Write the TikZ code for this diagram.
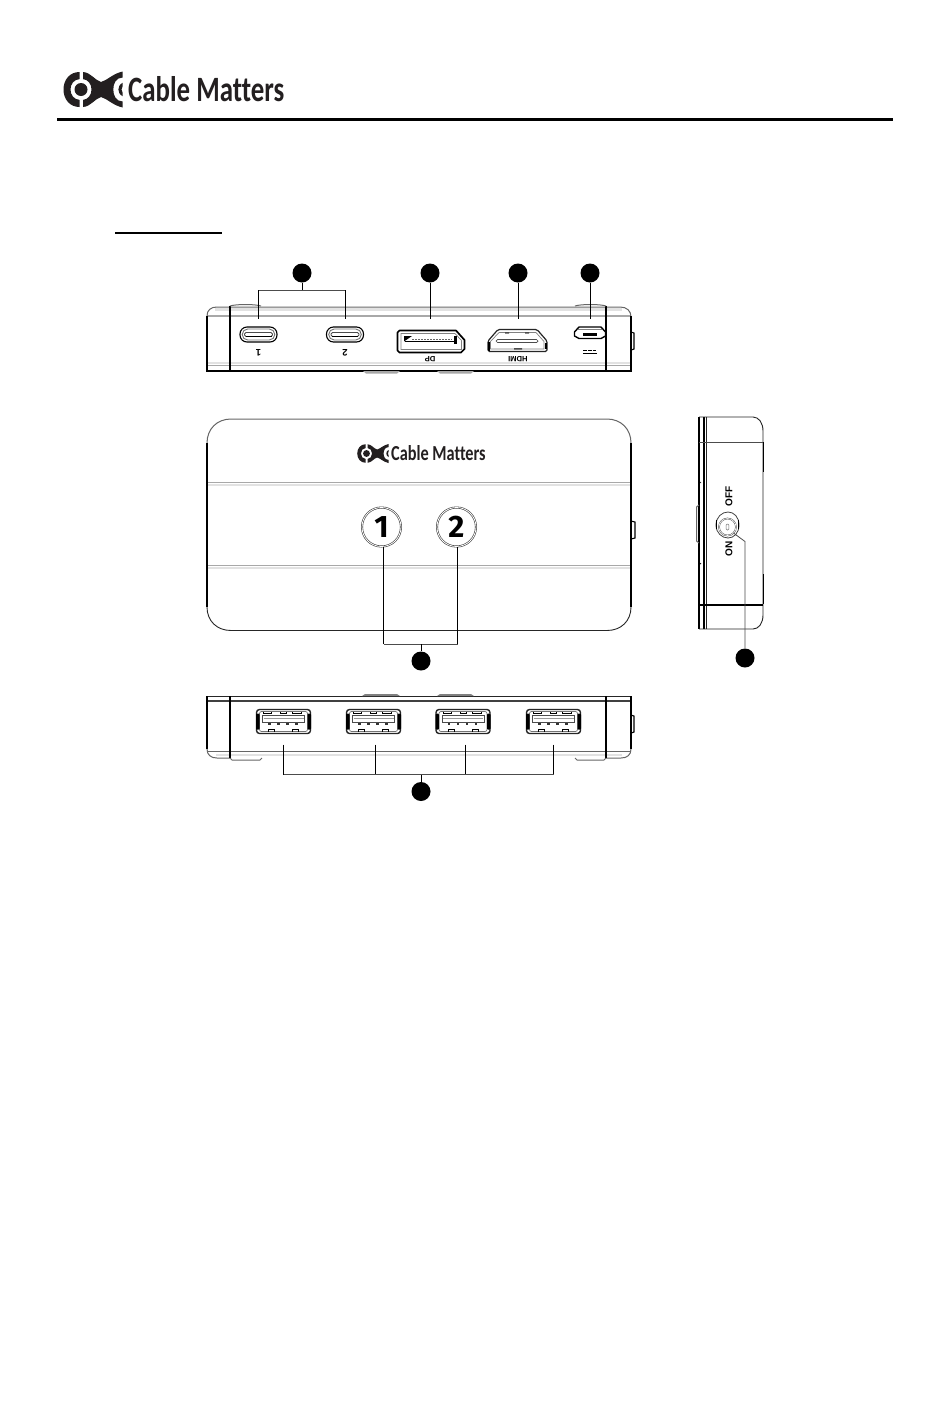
\documentclass[tikz,border=0pt]{standalone}
\usepackage{fontspec}
\usepackage{graphicx}
\setmainfont{Liberation Sans}
\newfontfamily\logofont[Ligatures=NoCommon]{Carlito}
\newfontfamily\numfont{Fira Sans}
\definecolor{logoink}{HTML}{231F20}
\definecolor{bandgray}{HTML}{A8A8A8}
\definecolor{bandlight}{HTML}{E2E2E2}
\tikzset{
  bullet/.style={circle,fill=black,draw=none,minimum size=19pt,inner sep=0pt},
  leader/.style={draw=black,line width=0.9pt},
  graylead/.style={draw=black!70,line width=0.8pt},
  edge/.style={draw=black!85,line width=0.9pt},
  hardedge/.style={draw=black,line width=1.1pt},
  band/.style={draw=bandgray,line width=1.6pt},
  lightband/.style={draw=bandlight,line width=2.6pt},
  softedge/.style={draw=black!60,line width=1pt},
  portlabel/.style={font=\bfseries\fontsize{7.6}{8}\selectfont,inner sep=0pt},
  numportlabel/.style={font=\bfseries\fontsize{9.5}{10}\selectfont,inner sep=0pt},
  switchlabel/.style={font=\bfseries\fontsize{10}{10}\selectfont,rotate=90,inner sep=0pt},
  numlabel/.style={font=\numfont\bfseries\fontsize{31}{31}\selectfont,inner sep=0pt},
  roundbutton/.style={circle,draw=black!75,double=white,double distance=0.8pt,line width=0.6pt,minimum size=39pt,inner sep=0pt},
  usbc/.pic={
    \draw[black,line width=1.1pt,rounded corners=7pt] (-18.5,-7.5) rectangle (18.5,7.5);
    \draw[black!55,line width=0.9pt,rounded corners=5.5pt] (-16.3,-5.5) rectangle (16.3,5.5);
    \draw[black!70,line width=0.8pt,rounded corners=1.5pt] (-14,-2) rectangle (14,2);
    \draw[black,line width=0.9pt] (-13,2) -- (13,2);
  },
  usba/.pic={
    \draw[black!85,line width=1.4pt,rounded corners=3pt] (-27,-12) rectangle (27,12);
    \draw[black!55,line width=0.7pt,rounded corners=2pt] (-24,-10) rectangle (24,10);
    \fill[black,rounded corners=1pt] (-27.5,-8) rectangle (-24,8);
    \fill[black,rounded corners=1pt] (24,-8) rectangle (27.5,8);
    \draw[black!70,line width=0.7pt] (-21,-6.5) rectangle (21,1);
    \draw[black!40,line width=1.5pt] (-20,-3) -- (20,-3);
    \foreach \a/\b in {-20/-12,-3/3,9/18} \draw[black,line width=0.6pt] (\a,-10) -- (\a,-8) -- (\b,-8) -- (\b,-10);
    \foreach \a/\b in {-15/-9,9/15} \draw[black,line width=0.6pt] (\a,10) -- (\a,7.5) -- (\b,7.5) -- (\b,10);
    \foreach \a in {-14,-5,4,13} \fill[black!80] (\a-1.1,1) rectangle (\a+1.1,3);
  },
}
% logo: #1 ring centre x, #2 ring centre y, #3 scale of the mark
\newcommand{\logomark}[3]{%
  \begin{scope}[shift={(#1,#2)},scale=#3]
    \fill[logoink] (0,0) circle (6.5);
    % left half of the ring
    \fill[logoink] (-1.5,-17.5) .. controls (-11,-17.5) and (-17.5,-10) .. (-17.5,0)
      .. controls (-17.5,10) and (-11,17.5) .. (-1.5,17.5) -- (-1.5,10.4)
      .. controls (-7,10) and (-10.5,5.5) .. (-10.5,0)
      .. controls (-10.5,-5.5) and (-7,-10) .. (-1.5,-10.4) -- cycle;
    % right half of the ring running into the bow
    \fill[logoink] (2,-17.5) .. controls (10,-17) and (14,-9) .. (20,-7.5)
      .. controls (26,-9) and (32,-16) .. (41.7,-18) -- (41.7,-12)
      .. controls (35,-12) and (32.3,-6) .. (32.3,0)
      .. controls (32.3,6) and (35,12) .. (41.7,12) -- (41.7,18)
      .. controls (32,16) and (26,9) .. (20,7.5)
      .. controls (14,9) and (10,17) .. (2,17.5) -- (2,10.4)
      .. controls (7,10) and (10.5,5.5) .. (10.5,0)
      .. controls (10.5,-5.5) and (7,-10) .. (2,-10.4) -- cycle;
    % small inner crescent
    \fill[logoink] (41.7,-6.8) .. controls (38.5,-5) and (37.4,-2.5) .. (37.4,0)
      .. controls (37.4,2.5) and (38.5,5) .. (41.7,6.8) -- (41.7,3.5)
      .. controls (40.8,2.5) and (40.5,1) .. (40.5,0)
      .. controls (40.5,-1) and (40.8,-2.5) .. (41.7,-3.5) -- cycle;
  \end{scope}}
\begin{document}
\begin{tikzpicture}[x=1pt,y=-1pt]
\useasboundingbox (0,0) rectangle (950,1403);
\fill[white] (0,0) rectangle (950,1403);

% ---------- header
\logomark{81}{89.5}{1}
\node[inner sep=0pt,anchor=west,text=logoink] (logotext) at (128,89.5)
  {\resizebox{156pt}{25pt}{\logofont\bfseries Cable Matters}};
\draw[black,line width=3pt] (57,119) -- (893,119);
\draw[black,line width=2.4pt] (115,233) -- (222,233);

% ---------- top (connector) view
\draw[lightband] (215,309.5) -- (622,309.5);
\draw[band] (207,316) -- (631,316);
\draw[softedge] (207,316) .. controls (207,310) and (211,307) .. (217,307) -- (620,307) .. controls (627,307) and (631,311) .. (631,317);
\draw[lightband] (207,363) -- (631,363);
\draw[band] (207,365.5) -- (631,365.5);
\draw[hardedge] (207,316) -- (207,371) -- (631,371) -- (631,316);
\draw[hardedge] (230,306) -- (230,371);
\draw[hardedge] (606,306) -- (606,371);
\draw[softedge] (230,306) .. controls (236,304) and (255,304) .. (261,306);
\draw[softedge] (575,306) .. controls (581,304) and (600,304) .. (606,306);
\fill[bandgray] (363,371) -- (400,371) -- (397,373.5) -- (366,373.5) -- cycle;
\fill[bandgray] (437,371) -- (474,371) -- (471,373.5) -- (440,373.5) -- cycle;
\draw[hardedge] (631,332) -- (634,333) -- (634,349) -- (631,350);

\pic at (258.5,334.5) {usbc};
\pic at (345,334.5) {usbc};
\node[numportlabel,rotate=180] (lab1) at (258.5,353) {1};
\node[numportlabel,rotate=180] (lab2) at (345,353) {2};

% DisplayPort
\draw[black,line width=1.7pt,line join=round] (399.5,330.5) -- (456,330.5) -- (464.5,340) -- (464.5,349) -- (461,352.5) -- (399.5,352.5) -- (397.5,350.5) -- (397.5,332.5) -- cycle;
\draw[black!50,line width=0.7pt] (401,333.5) -- (455,333.5) -- (461.5,340.5) -- (461.5,349.5) -- (401,349.5) -- cycle;
\draw[black,line width=1.1pt] (405,341.5) -- (455,341.5) -- (455,336);
\draw[black!60,line width=0.7pt,dash pattern=on 2pt off 1pt] (412,339) -- (452,339);
\fill[black] (404,336) -- (412,336) -- (404,341.5) -- cycle;
\fill[black] (453.5,335.5) rectangle (456.5,343.5);
\node[portlabel,rotate=180] (labdp) at (430,359) {DP};

% HDMI
\draw[black!85,line width=1.2pt,line join=round,rounded corners=1.5pt] (498,329.5) -- (537,329.5) -- (547,341) -- (547,351.5) -- (488,351.5) -- (488,341) -- cycle;
\draw[black!50,line width=0.7pt,line join=round] (499,332.5) -- (536,332.5) -- (544,341.5) -- (544,349) -- (490.5,349) -- (490.5,341.5) -- cycle;
\draw[black!70,line width=0.7pt,rounded corners=1.5pt] (496,339.5) rectangle (538,342.5);
\fill[black] (488,342) rectangle (489.7,351);
\fill[black] (545,343) rectangle (547,349);
\fill[black!70] (505,332) rectangle (509,333.5) (525,332) rectangle (529,333.5) (514,348) rectangle (522,349.5);
\node[portlabel,rotate=180] (labhdmi) at (518,359.5) {HDMI};

% micro USB / power
\draw[black,line width=1.4pt,line join=round] (579,327) -- (601,327) -- (605.5,332) -- (605.5,336) -- (601,338.5) -- (579,338.5) -- (574.5,336) -- (574.5,332) -- cycle;
\fill[black] (583,333) rectangle (597,336);
\draw[black!50,line width=0.6pt] (578,329.5) -- (602,329.5);
\draw[black,line width=1.1pt,dash pattern=on 3.5pt off 1.2pt] (583.3,350.5) -- (597,350.5);
\draw[black,line width=1.1pt] (583.3,353.3) -- (597,353.3);

% bullets and leaders of the top view
\node[bullet] (b1) at (302,273) {};
\node[bullet] (b2) at (430,273) {};
\node[bullet] (b3) at (518,273) {};
\node[bullet] (b4) at (590,273) {};
\coordinate (j1) at (302,290);
\coordinate (ja) at (258.5,290);
\coordinate (jb) at (345,290);
\coordinate (pa) at (258.5,318.5);
\coordinate (pb) at (345,318.5);
\coordinate (p2) at (430,318.5);
\coordinate (p3) at (518,318.5);
\coordinate (p4) at (590,318.5);
\draw[leader] (b1) -- (j1);
\draw[graylead] (ja) -- (jb);
\draw[leader] (ja) -- (pa);
\draw[leader] (jb) -- (pb);
\draw[leader] (b2) -- (p2);
\draw[leader] (b3) -- (p3);
\draw[leader] (b4) -- (p4);

% ---------- main view
\draw[lightband] (207,485) -- (631,485);
\draw[band] (207,482.5) -- (631,482.5);
\draw[lightband] (207,568) -- (631,568);
\draw[band] (207,565.5) -- (631,565.5);
\draw[softedge] (207,443) .. controls (207,429) and (217,419) .. (231,419) -- (607,419) .. controls (621,419) and (631,429) .. (631,443);
\draw[hardedge] (207,443) -- (207,607);
\draw[hardedge] (631,443) -- (631,607);
\draw[edge] (207,607) .. controls (207,621) and (217,630.5) .. (231,630.5) -- (607,630.5) .. controls (621,630.5) and (631,621) .. (631,607);
\draw[hardedge] (631,521) -- (635,522) -- (635,538) -- (631,539);

\logomark{366.5}{453.5}{0.53}
\node[inner sep=0pt,anchor=west,text=logoink] (logotext2) at (391,453.5)
  {\resizebox{94.5pt}{15pt}{\logofont\bfseries Cable Matters}};

\node[roundbutton] (btn1) at (381.5,527) {};
\node[roundbutton] (btn2) at (456.5,527) {};
\node[numlabel] (num1) at (381.5,527) {1};
\node[numlabel] (num2) at (456.5,527) {2};

\node[bullet] (b5) at (421,661) {};
\coordinate (sa) at (383.5,546.5);
\coordinate (sb) at (457.5,546.5);
\coordinate (ka) at (383.5,644);
\coordinate (kb) at (457.5,644);
\coordinate (kc) at (421,644);
\draw[leader] (sa) -- (ka);
\draw[leader] (sb) -- (kb);
\draw[graylead] (ka) -- (kb);
\draw[leader] (kc) -- (b5);

% ---------- side view
\draw[hardedge] (699,417) -- (699,629);
\draw[hardedge] (704,417) -- (704,629);
\draw[edge] (706,417) -- (706,629);
\draw[edge] (699,417) -- (753,417) .. controls (759,417) and (763,423) .. (763,431) -- (763,615) .. controls (763,623) and (759,629) .. (753,629) -- (699,629);
\draw[graylead] (699,442) -- (763,442);
\draw[hardedge] (699,605) -- (763,605);
\draw[hardedge] (763.8,442) -- (763.8,472);
\draw[hardedge] (763.8,574) -- (763.8,604);
\draw[softedge] (699,505) -- (696.5,507) -- (696.5,541) -- (699,543);
\draw[black,line width=0.7pt] (699,481) -- (701,483) (699,565) -- (701,563);
\draw[black!75,line width=0.8pt] (716,525) .. controls (716,517) and (722,512) .. (728,512) .. controls (734,512) and (739,517) .. (739,525) .. controls (739,533) and (734,538) .. (728,538) .. controls (722,538) and (716,533) .. (716,525) -- cycle;
\draw[black,line width=1.8pt] (716.5,520) -- (716.5,529) (738.5,520) -- (738.5,529);
\node[circle,draw=black!65,double=white,double distance=0.6pt,line width=0.5pt,fill=white,minimum size=17pt,inner sep=0pt] (knob) at (727.5,527) {};
\draw[black!55,line width=0.5pt,rounded corners=1pt] (726.2,524) rectangle (728.8,530);
\node[switchlabel] (off) at (729,496) {OFF};
\node[switchlabel] (on) at (729,548.5) {ON};
\node[bullet] (b6) at (745,658) {};
\coordinate (kink) at (745,541.5);
\draw[graylead] (knob.south east) -- (kink) -- (b6);

% ---------- bottom (USB) view
\draw[edge] (207,696) -- (631,696);
\draw[black!75,line width=1.4pt] (207,701) -- (631,701);
\draw[lightband] (216,755) -- (622,755);
\draw[softedge] (207,751) -- (631,751);
\draw[hardedge] (207,696) -- (207,749);
\draw[hardedge] (631,696) -- (631,749);
\draw[softedge] (207,749) .. controls (207,755) and (211,758) .. (217,758) -- (230,758);
\draw[softedge] (606,758) -- (621,758) .. controls (627,758) and (631,755) .. (631,749);
\draw[hardedge] (230,696) -- (230,758);
\draw[hardedge] (606,696) -- (606,758);
\draw[softedge] (230,758) -- (232,760) -- (260,760) -- (262,758);
\draw[softedge] (575,758) -- (577,760) -- (604,760) -- (606,758);
\fill[black!50] (362,696) -- (365,694) -- (397,694) -- (400,696) -- cycle;
\fill[black!50] (437,696) -- (440,694) -- (471,694) -- (474,696) -- cycle;
\draw[hardedge] (631,715) -- (634,716) -- (634,732) -- (631,733);

\pic at (283.5,721.5) {usba};
\pic at (373.5,721.5) {usba};
\pic at (463,721.5) {usba};
\pic at (553.5,721.5) {usba};

\node[bullet] (b7) at (421,791.5) {};
\coordinate (ua) at (283.5,744.5);
\coordinate (ub) at (375,744.5);
\coordinate (uc) at (465,744.5);
\coordinate (ud) at (553.5,744.5);
\coordinate (va) at (283.5,774.5);
\coordinate (vb) at (375,774.5);
\coordinate (vc) at (465,774.5);
\coordinate (vd) at (553.5,774.5);
\coordinate (ve) at (421,774.5);
\draw[leader] (ua) -- (va);
\draw[leader] (ub) -- (vb);
\draw[leader] (uc) -- (vc);
\draw[leader] (ud) -- (vd);
\draw[graylead] (va) -- (vd);
\draw[leader] (ve) -- (b7);
\end{tikzpicture}
\end{document}
